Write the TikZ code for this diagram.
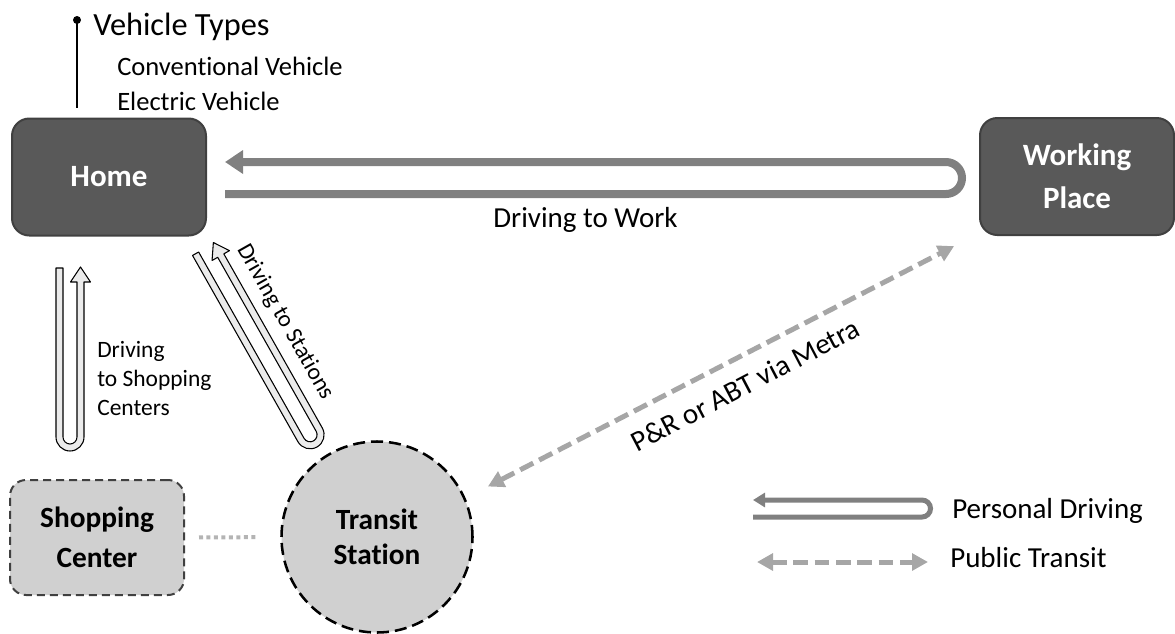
\documentclass[tikz,border=0pt]{standalone}
\usepackage{fontspec}
\setmainfont{Carlito}[Ligatures=NoCommon]
\usetikzlibrary{arrows.meta,calc,positioning}

\definecolor{boxdark}{HTML}{595959}
\definecolor{boxedge}{HTML}{404040}
\definecolor{boxlight}{HTML}{D0D0D0}
\definecolor{drivegray}{HTML}{808080}
\definecolor{transitgray}{HTML}{A6A6A6}
\definecolor{ufill}{HTML}{EBEBEB}
\definecolor{dotgray}{HTML}{B4B4B4}

% outlined U-turn arrow: origin, rotation, length
\newcommand{\drivingU}[3]{%
	\begin{scope}[shift={(#1)}, rotate=#2]
		\filldraw[uline]
			(-14,{-(#3-1)}) -- (-7,{-(#3-1)}) -- (-7,0)
			arc[start angle=180, end angle=0, radius=7]
			-- (7,{-(#3-15)}) -- (0.5,{-(#3-15)}) -- (10.5,-#3)
			-- (20.5,{-(#3-15)}) -- (14,{-(#3-15)}) -- (14,0)
			arc[start angle=0, end angle=180, radius=14]
			-- cycle;
	\end{scope}}

\begin{document}
\begin{tikzpicture}[x=0.75pt, y=-0.75pt,
	placebox/.style={draw=boxedge, line width=1.5pt, rounded corners=13pt,
		fill=boxdark, text=white, align=center, inner sep=0pt,
		font=\bfseries\fontsize{23.25}{32}\selectfont,
		minimum width=145.5pt, minimum height=87.75pt},
	stopbox/.style={fill=boxlight, line width=1.5pt, align=center, inner sep=0pt,
		font=\bfseries\fontsize{22}{30}\selectfont},
	biglbl/.style={inner sep=0pt, font=\fontsize{21.75}{26}\selectfont},
	sublbl/.style={inner sep=0pt, font=\fontsize{19.9}{24}\selectfont},
	smalllbl/.style={inner sep=0pt, align=left, font=\fontsize{17.6}{21.4}\selectfont},
	drive/.style={draw=drivegray, line width=6pt,
		-{Triangle[length=13.5pt, width=17pt]}},
	transit/.style={draw=transitgray, line width=3.75pt, dash pattern=on 11pt off 5pt,
		{Triangle[length=12pt, width=12.5pt]}-{Triangle[length=12pt, width=12.5pt]}},
	uline/.style={draw=black, fill=ufill, line width=0.8pt, line join=round},
	]

	\useasboundingbox (0,0) rectangle (1175,633);

	\def\yUp{162}
	\def\yLow{194}

	% places
	\node[placebox] (home) at (109,177) {Home};
	\node[placebox] (work) at (1077,176.5) {Working\\Place};
	\node[stopbox, draw=boxedge, dash pattern=on 6pt off 3.75pt, rounded corners=12pt,
		minimum width=130.5pt, minimum height=86.25pt] (shop) at (97,537.5)
		{Shopping\\Center};
	\node[stopbox, draw=black, circle, line width=1.9pt, dash pattern=on 9pt off 4.5pt,
		minimum size=143.25pt, font=\bfseries\fontsize{22}{26}\selectfont] (station) at (377,537)
		{Transit\\Station};

	% vehicle types
	\node[circle, fill=black, inner sep=0pt, minimum size=6pt] (vdot) at (77,20) {};
	\coordinate (vend) at (77,108);
	\draw[line width=1.1pt] (vdot.center) -- (vend);
	\node[biglbl, anchor=base west, font=\fontsize{24.25}{28}\selectfont] (vtypes) at (93,35)
		{Vehicle Types};
	\node[sublbl, anchor=base west] (convveh) at (117,75) {Conventional Vehicle};
	\node[sublbl, anchor=base west] (elecveh) at (117,110) {Electric Vehicle};

	% driving to work
	\coordinate (wkLow) at (225,\yLow);
	\coordinate (wkUp) at (225,\yUp);
	\draw[drive]
		(wkLow) -- (946,\yLow) arc[start angle=90, end angle=-90, radius=16]
		-- (wkUp);
	\node[biglbl, anchor=base] (lblwork) at (585.5,227) {Driving to Work};

	% driving to shopping / stations
	\coordinate (uShop) at (70,437);
	\coordinate (uStat) at (310.1,434.8);
	\drivingU{uShop}{0}{170}
	\drivingU{uStat}{29.5}{215}
	\node[smalllbl, anchor=base west] (lblshop) at (97,415)
		{Driving\\to Shopping\\Centers};
	\node[smalllbl, rotate=-60.5] (lblstat) at (285,322) {Driving to Stations};

	% shopping center .. transit station
	\draw[dotgray, line width=3pt, dash pattern=on 3pt off 2.6pt,
		shorten <=10.5pt, shorten >=17.6pt] (shop) -- (station);

	% public transit
	\draw[transit, shorten <=21pt, shorten >=21pt, transform canvas={yshift=-5pt}]
		(station) -- (work);
	\node[biglbl, rotate=27.6] (lblpr) at (745,385) {P\&R or ABT via Metra};

	% legend
	\draw[drive, line width=3.75pt, -{Triangle[length=9pt, width=10.5pt]}]
		(753,517) -- (922,517) arc[start angle=90, end angle=-90, radius=8.5]
		-- (753,500);
	\node[biglbl, anchor=base west] (legdrive) at (952,518) {Personal Driving};
	\draw[transit] (757,562) -- (928,562);
	\node[biglbl, anchor=base west] (legtransit) at (950,567) {Public Transit};

\end{tikzpicture}
\end{document}
